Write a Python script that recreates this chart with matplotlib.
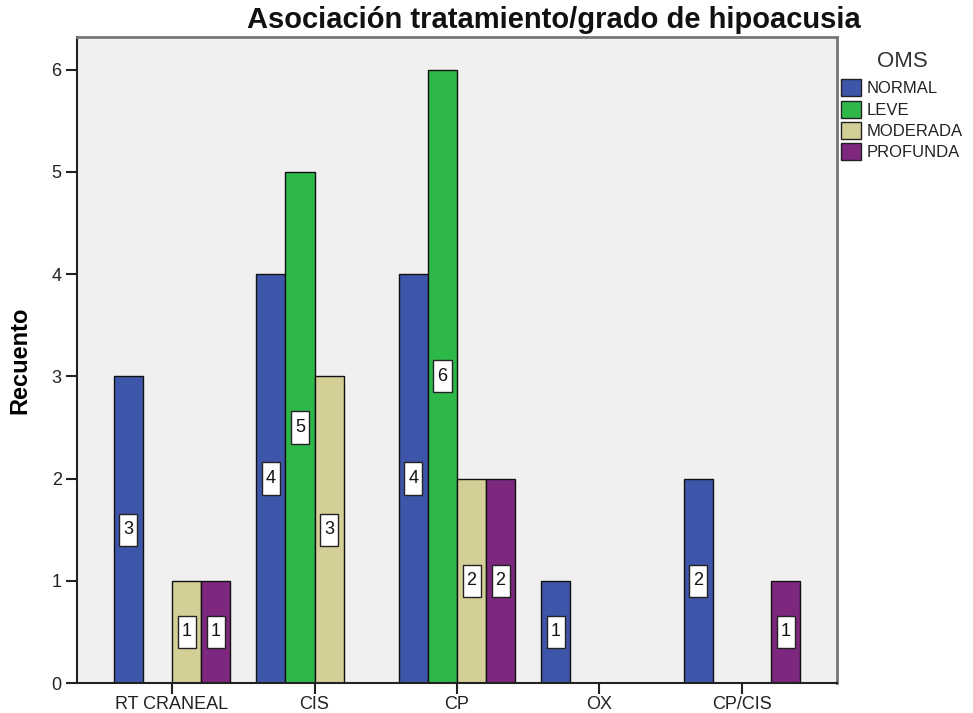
import numpy as np
import matplotlib
matplotlib.use("Agg")
import matplotlib.pyplot as plt
from matplotlib.patches import Patch
from matplotlib.path import Path

plt.rcParams['font.family'] = ['Liberation Sans', 'DejaVu Sans']

categories = ["RT CRANEAL", "CIS", "CP", "OX", "CP/CIS"]
series_names = ["NORMAL", "LEVE", "MODERADA", "PROFUNDA"]
normal = [3, 4, 4, 1, 2]
leve = [0, 5, 6, 0, 0]
moderada = [1, 3, 2, 0, 0]
profunda = [1, 0, 2, 0, 1]
y_ticks = [0, 1, 2, 3, 4, 5, 6]

colors = ["#3E56AA", "#2EB84A", "#D4CF96", "#7D287E"]
series = [normal, leve, moderada, profunda]


def tall_box(x0, y0, width, height, mutation_size):
    # rectangular label box with more vertical than horizontal padding
    px = 0.22 * mutation_size
    py = 0.42 * mutation_size
    x0, y0 = x0 - px, y0 - py
    x1, y1 = x0 + width + 2 * px, y0 + height + 2 * py
    return Path([(x0, y0), (x1, y0), (x1, y1), (x0, y1), (x0, y0)],
                closed=True)


fig = plt.figure(figsize=(9.73, 7.13), dpi=100)
ax = fig.add_axes([77/973, 30/713, 760/973, 646/713])
ax.set_facecolor("#F0F0F0")

x = np.arange(len(categories))
w = 0.204
for i, (vals, col) in enumerate(zip(series, colors)):
    offs = (i - 1.5) * w
    for xi, v in zip(x, vals):
        if v == 0:
            continue
        ax.bar(xi + offs, v, width=w, color=col, edgecolor="#111111",
               linewidth=1.0, zorder=2)
        ax.text(xi + offs, v / 2, str(v), ha="center", va="center",
                fontsize=13, color="#111111", zorder=3,
                bbox=dict(boxstyle=tall_box, fc="white",
                          ec="#222222", lw=1.0))

ax.set_xlim(-0.667, 4.667)
ax.set_ylim(0, 6.32)
ax.set_xticks(x)
ax.set_xticklabels(categories, fontsize=13, color="#222222")
ax.set_yticks(y_ticks)
ax.set_yticklabels([str(t) for t in y_ticks], fontsize=13, color="#222222")
ax.tick_params(axis="both", direction="out", length=8, width=1.5,
               color="#222222", pad=3)
ax.tick_params(axis="x", pad=1.5)
ax.set_ylabel("Recuento", fontsize=17, fontweight="bold")
ax.yaxis.set_label_coords(-46/760, 0.5)

for side in ["left", "bottom"]:
    ax.spines[side].set_color("#222222")
    ax.spines[side].set_linewidth(1.5)
for side in ["top", "right"]:
    ax.spines[side].set_color("#777777")
    ax.spines[side].set_linewidth(2.0)

fig.text(554/973, 1 - 20/713, "Asociación tratamiento/grado de hipoacusia",
         ha="center", va="center", fontsize=21, fontweight="bold",
         color="#111111")

handles = [Patch(facecolor=c, edgecolor="#222222", lw=1.0) for c in colors]
leg = fig.legend(handles, series_names, loc="upper left",
                 bbox_to_anchor=(838/973, 1 - 48/713), frameon=False,
                 title="OMS", fontsize=12, title_fontsize=16,
                 handlelength=1.2, handleheight=1.2, handletextpad=0.3,
                 labelspacing=0.25, borderaxespad=0, borderpad=0.2)
leg._legend_box.sep = 5
leg.get_title().set_color("#333333")
for t in leg.get_texts():
    t.set_color("#222222")

fig.savefig("out.png", dpi=100)
